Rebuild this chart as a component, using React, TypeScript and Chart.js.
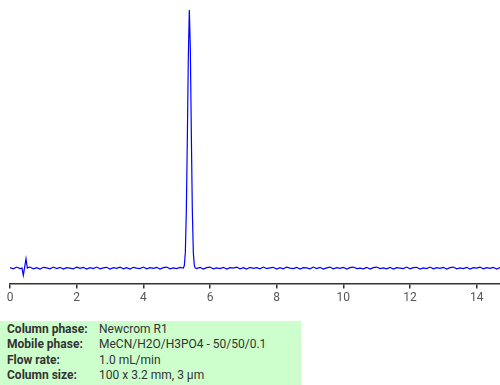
import React, { useEffect, useRef } from "react";
import { Chart, registerables } from "chart.js";

Chart.register(...registerables);

type Pt = [number, number];

// retention time (min), relative absorbance
const baselineStart: Pt[] = [[0, 0.002], [0.1, -0.003], [0.2, 0.004], [0.3, -0.002]];
const injectionDip: Pt[] = [[0.36, 0.0], [0.4, -0.028], [0.44, 0.004], [0.48, 0.036], [0.52, 0.0], [0.56, 0.003]];
const baselineA: Pt[] = [
  [0.6, 0.004], [0.7, -0.003], [0.8, 0.002], [0.9, -0.004], [1.0, 0.003], [1.1, 0.001], [1.2, -0.003], [1.3, 0.004], [1.4, -0.002], [1.5, 0.003],
  [1.6, -0.004], [1.7, 0.002], [1.8, 0.0], [1.9, -0.003], [2.0, 0.004], [2.1, -0.001], [2.2, 0.003], [2.3, -0.004], [2.4, 0.002], [2.5, -0.002],
  [2.6, 0.004], [2.7, -0.003], [2.8, 0.001], [2.9, 0.003], [3.0, -0.004], [3.1, 0.002], [3.2, -0.001], [3.3, 0.004], [3.4, -0.003], [3.5, 0.002],
  [3.6, -0.004], [3.7, 0.003], [3.8, 0.0], [3.9, -0.002], [4.0, 0.004], [4.1, -0.003], [4.2, 0.002], [4.3, -0.001], [4.4, 0.003], [4.5, -0.004],
  [4.6, 0.002], [4.7, 0.004], [4.8, -0.003], [4.9, 0.001], [5.0, -0.002], [5.1, 0.003],
];
const peak: Pt[] = [
  [5.2, 0.0], [5.23, 0.01], [5.26, 0.06], [5.29, 0.22], [5.32, 0.5], [5.35, 0.82], [5.38, 1.0],
  [5.41, 0.85], [5.44, 0.52], [5.47, 0.22], [5.5, 0.06], [5.53, 0.01], [5.56, 0.0],
];
const baselineB: Pt[] = [
  [5.6, -0.002], [5.7, 0.003], [5.8, -0.004], [5.9, 0.002], [6.0, 0.004], [6.1, -0.003], [6.2, 0.001], [6.3, -0.002], [6.4, 0.003], [6.5, -0.004],
  [6.6, 0.002], [6.7, 0.0], [6.8, 0.004], [6.9, -0.003], [7.0, 0.002], [7.1, -0.004], [7.2, 0.003], [7.3, -0.001], [7.4, 0.002], [7.5, -0.003],
  [7.6, 0.004], [7.7, -0.002], [7.8, 0.001], [7.9, 0.003], [8.0, -0.004], [8.1, 0.002], [8.2, -0.003], [8.3, 0.004], [8.4, 0.0], [8.5, -0.002],
  [8.6, 0.003], [8.7, -0.004], [8.8, 0.002], [8.9, 0.001], [9.0, -0.003], [9.1, 0.004], [9.2, -0.002], [9.3, 0.003], [9.4, -0.004], [9.5, 0.001],
  [9.6, 0.004], [9.7, -0.003], [9.8, 0.002], [9.9, -0.001], [10.0, 0.003], [10.1, -0.004], [10.2, 0.002], [10.3, 0.004], [10.4, -0.002], [10.5, 0.0],
  [10.6, -0.003], [10.7, 0.003], [10.8, -0.004], [10.9, 0.002], [11.0, 0.004], [11.1, -0.002], [11.2, 0.001], [11.3, -0.003], [11.4, 0.003], [11.5, -0.004],
  [11.6, 0.002], [11.7, 0.0], [11.8, -0.002], [11.9, 0.004], [12.0, -0.003], [12.1, 0.002], [12.2, 0.003], [12.3, -0.004], [12.4, 0.001], [12.5, -0.002],
  [12.6, 0.004], [12.7, -0.003], [12.8, 0.002], [12.9, -0.001], [13.0, 0.003], [13.1, -0.004], [13.2, 0.002], [13.3, 0.004], [13.4, -0.003], [13.5, 0.001],
  [13.6, -0.002], [13.7, 0.003], [13.8, -0.004], [13.9, 0.002], [14.0, 0.0], [14.1, 0.004], [14.2, -0.003], [14.3, 0.002], [14.4, -0.001], [14.5, 0.003],
  [14.6, -0.004], [14.7, 0.002],
];

const xMin = 0;
const xMax = 14.7;
const yMin = -0.06;
const yMax = 1.0;
const xTickValues = [0, 2, 4, 6, 8, 10, 12, 14];

const infoLabels = ["Column phase:", "Mobile phase:", "Flow rate:", "Column size:"];
const infoValues = ["Newcrom R1", "MeCN/H2O/H3PO4 - 50/50/0.1", "1.0 mL/min", "100 x 3.2 mm, 3 µm"];

if (typeof document !== "undefined") {
  document.body.style.margin = "0";
  document.documentElement.style.overflow = "hidden";
  document.body.style.overflow = "hidden";
}

export default function App() {
  const ref = useRef<HTMLCanvasElement | null>(null);

  useEffect(() => {
    if (!ref.current) return;
    const all = [...baselineStart, ...injectionDip, ...baselineA, ...peak, ...baselineB];
    const chart = new Chart(ref.current, {
      type: "line",
      data: {
        datasets: [
          {
            data: all.map(([x, y]) => ({ x, y })),
            borderColor: "#0000ff",
            borderWidth: 1.2,
            pointRadius: 0,
            tension: 0,
          },
        ],
      },
      options: {
        animation: false,
        responsive: false,
        layout: { padding: { left: 10, right: 0, top: 10, bottom: 0 } },
        plugins: { legend: { display: false }, tooltip: { enabled: false } },
        scales: {
          x: {
            type: "linear",
            min: xMin,
            max: xMax,
            afterBuildTicks: (scale: any) => {
              scale.ticks = xTickValues.map((v) => ({ value: v }));
            },
            grid: {
              drawOnChartArea: false,
              tickLength: 5,
              color: "#333333",
              lineWidth: 1.5,
            },
            border: { color: "#333333", width: 1.5 },
            ticks: {
              color: "#555555",
              padding: 2,
              font: { family: "Roboto", size: 12 },
              maxRotation: 0,
              autoSkip: false,
            },
          },
          y: {
            display: false,
            min: yMin,
            max: yMax,
          },
        },
      },
    });
    return () => chart.destroy();
  }, []);

  return (
    <div style={{ position: "relative", width: 500, height: 385, overflow: "hidden" }}>
      <canvas ref={ref} width={500} height={307} />
      <div
        style={{
          position: "absolute",
          left: 0,
          top: 321,
          width: 301,
          height: 64,
          background: "#ccffcc",
          fontFamily: "Roboto",
          fontSize: 12,
          color: "#333",
          paddingTop: 1,
          boxSizing: "border-box",
        }}
      >
        {infoLabels.map((l, i) => (
          <div key={i} style={{ display: "flex", height: 15.3, lineHeight: "15.3px", whiteSpace: "nowrap" }}>
            <span style={{ width: 99, flex: "none", paddingLeft: 7, fontWeight: "bold", boxSizing: "border-box" }}>{l}</span>
            <span>{infoValues[i]}</span>
          </div>
        ))}
      </div>
    </div>
  );
}
